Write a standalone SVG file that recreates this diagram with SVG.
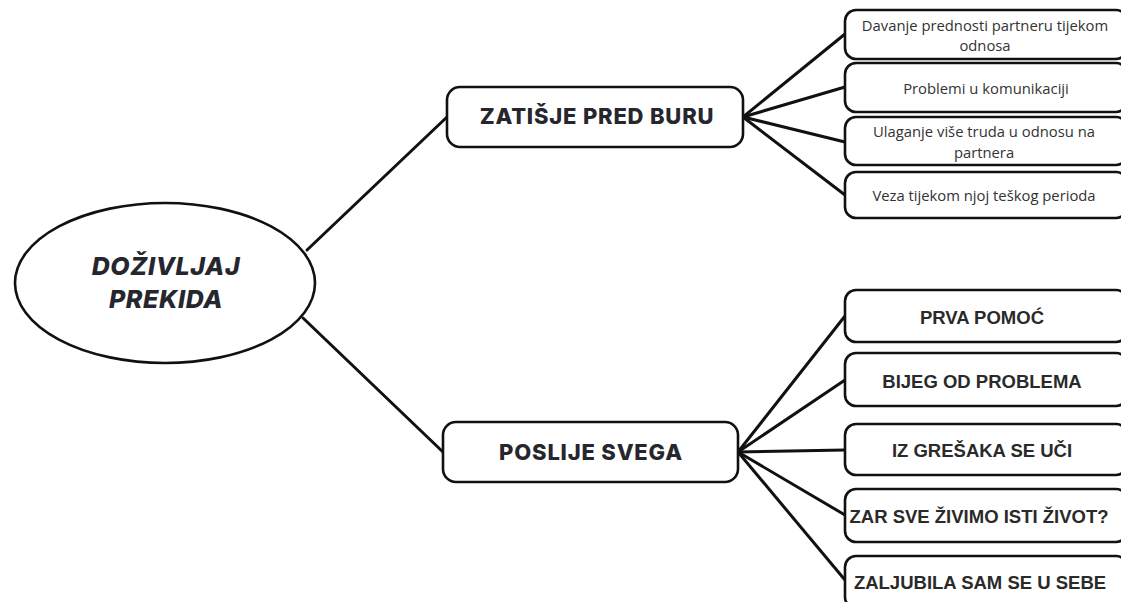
<svg xmlns="http://www.w3.org/2000/svg" width="1121" height="602" viewBox="0 0 1121 602">
<style>
.box{fill:#fff;stroke:#111;stroke-width:2.6}
.ln{stroke:#111;stroke-width:3;fill:none;stroke-linecap:round}
.mid{font-family:Inter,"Liberation Sans",sans-serif;font-weight:800;font-size:22px;letter-spacing:0.8px;fill:#26262e;text-anchor:middle;dominant-baseline:central}
.leaf{font-family:"Open Sans","Liberation Sans",sans-serif;font-size:14.8px;fill:#333;text-anchor:middle;dominant-baseline:central}
.leafb{font-family:"Liberation Sans",Arial,sans-serif;font-weight:bold;font-size:18.5px;fill:#2a2a2a;text-anchor:middle;dominant-baseline:central}
.root{font-family:Inter,"Liberation Sans",sans-serif;font-weight:800;font-style:italic;font-size:25px;letter-spacing:0.6px;fill:#26262e;text-anchor:middle;dominant-baseline:central}
</style>
<rect width="1121" height="602" fill="#fff"/>
<g id="connectors">
<path class="ln" d="M307 250 L447 117"/>
<path class="ln" d="M303 318 L443 452"/>
<path class="ln" d="M743 117 L845 34"/>
<path class="ln" d="M743 117 L845 87"/>
<path class="ln" d="M743 117 L845 142"/>
<path class="ln" d="M743 117 L845 195"/>
<path class="ln" d="M738 452 L845 316"/>
<path class="ln" d="M738 452 L845 380"/>
<path class="ln" d="M738 452 L845 450"/>
<path class="ln" d="M738 452 L845 515"/>
<path class="ln" d="M738 452 L845 580"/>
</g>
<g id="root">
<ellipse cx="165" cy="283" rx="150" ry="80" fill="#fff" stroke="#111" stroke-width="2.6"/>
<text class="root" x="166" y="266">DOŽIVLJAJ</text>
<text class="root" x="166" y="299">PREKIDA</text>
</g>
<g id="n-zatisje">
<rect class="box" x="447" y="87" width="296" height="60" rx="13"/>
<text class="mid" x="597" y="116">ZATIŠJE PRED BURU</text>
</g>
<g id="n-poslije">
<rect class="box" x="443" y="422" width="295" height="60" rx="13"/>
<text class="mid" x="591" y="452">POSLIJE SVEGA</text>
</g>
<g id="t1">
<rect class="box" x="845" y="10" width="282" height="49" rx="11"/>
<text class="leaf" x="985" y="25">Davanje prednosti partneru tijekom</text>
<text class="leaf" x="985" y="45">odnosa</text>
</g>
<g id="t2">
<rect class="box" x="845" y="63" width="282" height="49" rx="11"/>
<text class="leaf" x="986" y="88">Problemi u komunikaciji</text>
</g>
<g id="t3">
<rect class="box" x="845" y="117" width="282" height="48" rx="11"/>
<text class="leaf" x="984" y="131">Ulaganje više truda u odnosu na</text>
<text class="leaf" x="984" y="152">partnera</text>
</g>
<g id="t4">
<rect class="box" x="845" y="172" width="282" height="46" rx="11"/>
<text class="leaf" x="984" y="195">Veza tijekom njoj teškog perioda</text>
</g>
<g id="b1">
<rect class="box" x="845" y="290" width="282" height="52" rx="11"/>
<text class="leafb" x="982" y="317">PRVA POMOĆ</text>
</g>
<g id="b2">
<rect class="box" x="845" y="353" width="282" height="53" rx="11"/>
<text class="leafb" x="982" y="381">BIJEG OD PROBLEMA</text>
</g>
<g id="b3">
<rect class="box" x="845" y="424" width="282" height="51" rx="11"/>
<text class="leafb" x="982" y="450">IZ GREŠAKA SE UČI</text>
</g>
<g id="b4">
<rect class="box" x="845" y="489" width="282" height="53" rx="11"/>
<text class="leafb" x="979" y="516">ZAR SVE ŽIVIMO ISTI ŽIVOT?</text>
</g>
<g id="b5">
<rect class="box" x="845" y="556" width="282" height="52" rx="11"/>
<text class="leafb" x="980" y="582">ZALJUBILA SAM SE U SEBE</text>
</g>
</svg>
